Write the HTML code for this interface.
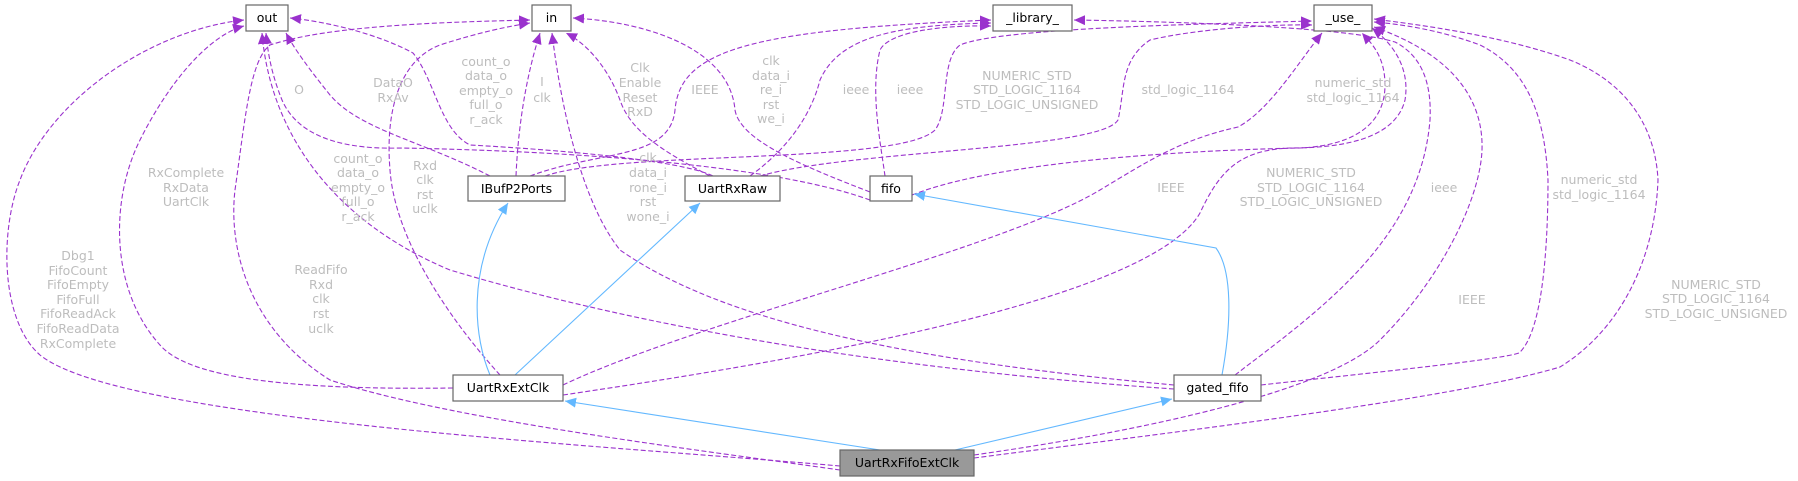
<!DOCTYPE html>
<html><head><meta charset="utf-8"><style>
html,body{margin:0;padding:0;background:#fff;}
svg{display:block;}
.n{fill:#fff;stroke:#666;stroke-width:1.2;}
.t{font-family:"DejaVu Sans","Liberation Sans",sans-serif;font-size:12.5px;fill:#000;text-anchor:middle;}
.l{font-family:"DejaVu Sans","Liberation Sans",sans-serif;font-size:12.5px;fill:#bdbdbd;text-anchor:middle;}
.d{fill:none;stroke:#9a32cd;stroke-width:1.1;stroke-dasharray:5,2.5;marker-end:url(#pa);}
.b{fill:none;stroke:#63b8ff;stroke-width:1.1;marker-end:url(#ba);}
</style></head><body>
<svg width="1798" height="481" viewBox="0 0 1798 481" xmlns="http://www.w3.org/2000/svg">
<defs>
<marker id="pa" markerWidth="12" markerHeight="10" refX="11" refY="5" orient="auto" markerUnits="userSpaceOnUse"><path d="M0,0 L11,5 L0,10 z" fill="#9a32cd"/></marker>
<marker id="ba" markerWidth="12" markerHeight="10" refX="11" refY="5" orient="auto" markerUnits="userSpaceOnUse"><path d="M0,0 L11,5 L0,10 z" fill="#63b8ff"/></marker>
</defs>

<!-- edges to out -->
<path class="d" d="M840,466 C600,445 120,420 40,355 C0,320 0,230 20,180 C50,100 150,30 244,20"/>
<path class="d" d="M453,388 C300,390 190,380 160,345 C110,290 110,200 140,140 C170,80 210,35 244,26"/>
<path class="d" d="M490,176 C420,140 360,130 330,95 C310,70 295,50 286,33"/>
<path class="d" d="M713,176 C680,160 560,150 470,145 C440,130 435,80 413,53 C380,35 330,22 290,18"/>
<path class="d" d="M870,200 C760,160 520,150 400,148 C330,150 295,130 282,100 C272,75 268,55 266,33"/>
<path class="d" d="M1174,389 C900,370 650,330 450,270 C330,220 270,130 262,33"/>

<!-- edges to in -->
<path class="d" d="M840,470 C700,450 450,420 330,380 C250,330 228,250 235,190 C245,120 250,60 270,45 C330,25 450,22 530,20"/>
<path class="d" d="M516,176 C518,130 525,80 540,33"/>
<path class="d" d="M710,176 C660,150 630,130 620,100 C605,60 580,40 566,33"/>
<path class="d" d="M870,192 C800,165 740,140 735,110 C730,50 650,22 573,18"/>
<path class="d" d="M500,375 C450,320 395,240 390,170 C385,110 400,60 440,45 C480,32 510,26 530,23"/>
<path class="d" d="M1174,385 C900,360 720,320 620,250 C580,200 560,100 552,33"/>

<!-- edges to _library_ -->
<path class="d" d="M530,176 C600,150 670,160 675,110 C680,50 750,30 991,20"/>
<path class="d" d="M750,176 C800,140 815,100 820,80 C840,35 900,25 991,23"/>
<path class="d" d="M885,176 C880,140 870,90 880,50 C890,30 950,25 991,26"/>
<path class="d" d="M1235,375 C1320,310 1420,240 1430,120 C1432,80 1420,55 1395,42 C1350,28 1200,22 1074,20"/>

<!-- edges to _use_ -->
<path class="d" d="M545,176 C620,150 900,165 935,130 C950,110 940,60 960,45 C1000,28 1200,24 1312,21"/>
<path class="d" d="M760,176 C850,150 1100,150 1118,120 C1125,90 1120,60 1150,40 C1200,28 1280,24 1312,25"/>
<path class="d" d="M912,195 C1000,160 1200,150 1300,148 C1360,145 1385,120 1385,85 C1385,55 1370,42 1362,33"/>
<path class="d" d="M563,385 C700,320 1000,250 1100,190 C1150,160 1180,140 1238,127 C1270,110 1300,60 1322,33"/>
<path class="d" d="M563,395 C800,360 1150,300 1200,213 C1220,170 1240,150 1290,148 C1340,148 1395,140 1405,100 C1410,70 1395,45 1372,28"/>
<path class="d" d="M1261,385 C1350,375 1500,360 1519,353 C1545,330 1548,230 1548,180 C1545,120 1530,70 1480,45 C1440,30 1400,24 1374,22"/>
<path class="d" d="M974,458 C1150,435 1450,400 1560,367 C1620,330 1655,260 1658,180 C1655,120 1620,80 1570,60 C1500,35 1420,25 1374,19"/>
<path class="d" d="M974,455 C1150,430 1330,390 1380,340 C1440,280 1480,200 1482,150 C1484,90 1440,50 1374,27"/>

<!-- inheritance -->
<path class="b" d="M880,450 L565,401"/>
<path class="b" d="M955,450 L1172,399"/>
<path class="b" d="M490,375 C475,340 465,270 508,203"/>
<path class="b" d="M515,375 L700,203"/>
<path class="b" d="M1222,375 C1232,320 1232,270 1216,248 L914,194"/>

<!-- labels -->
<g class="l">
<text x="78" y="260">Dbg1</text><text x="78" y="275">FifoCount</text><text x="78" y="289">FifoEmpty</text><text x="78" y="304">FifoFull</text><text x="78" y="318">FifoReadAck</text><text x="78" y="333">FifoReadData</text><text x="78" y="348">RxComplete</text>
<text x="186" y="177">RxComplete</text><text x="186" y="192">RxData</text><text x="186" y="206">UartClk</text>
<text x="321" y="274">ReadFifo</text><text x="321" y="289">Rxd</text><text x="321" y="303">clk</text><text x="321" y="318">rst</text><text x="321" y="333">uclk</text>
<text x="358" y="163">count_o</text><text x="358" y="177">data_o</text><text x="358" y="192">empty_o</text><text x="358" y="206">full_o</text><text x="358" y="221">r_ack</text>
<text x="425" y="170">Rxd</text><text x="425" y="184">clk</text><text x="425" y="199">rst</text><text x="425" y="213">uclk</text>
<text x="299" y="94">O</text>
<text x="393" y="87">DataO</text><text x="393" y="102">RxAv</text>
<text x="486" y="66">count_o</text><text x="486" y="80">data_o</text><text x="486" y="95">empty_o</text><text x="486" y="109">full_o</text><text x="486" y="124">r_ack</text>
<text x="542" y="86">I</text><text x="542" y="102">clk</text>
<text x="640" y="72">Clk</text><text x="640" y="87">Enable</text><text x="640" y="102">Reset</text><text x="640" y="116">RxD</text>
<text x="705" y="94">IEEE</text>
<text x="771" y="65">clk</text><text x="771" y="80">data_i</text><text x="771" y="94">re_i</text><text x="771" y="109">rst</text><text x="771" y="123">we_i</text>
<text x="856" y="94">ieee</text><text x="910" y="94">ieee</text>
<text x="1027" y="80">NUMERIC_STD</text><text x="1027" y="94">STD_LOGIC_1164</text><text x="1027" y="109">STD_LOGIC_UNSIGNED</text>
<text x="1188" y="94">std_logic_1164</text>
<text x="648" y="162">clk</text><text x="648" y="177">data_i</text><text x="648" y="192">rone_i</text><text x="648" y="206">rst</text><text x="648" y="221">wone_i</text>
<text x="1171" y="192">IEEE</text>
<text x="1353" y="87">numeric_std</text><text x="1353" y="102">std_logic_1164</text>
<text x="1311" y="177">NUMERIC_STD</text><text x="1311" y="192">STD_LOGIC_1164</text><text x="1311" y="206">STD_LOGIC_UNSIGNED</text>
<text x="1444" y="192">ieee</text>
<text x="1599" y="184">numeric_std</text><text x="1599" y="199">std_logic_1164</text>
<text x="1472" y="304">IEEE</text>
<text x="1716" y="289">NUMERIC_STD</text><text x="1716" y="303">STD_LOGIC_1164</text><text x="1716" y="318">STD_LOGIC_UNSIGNED</text>
</g>

<!-- nodes -->
<rect class="n" x="246" y="5" width="42" height="26"/><text class="t" x="267" y="22">out</text>
<rect class="n" x="532" y="5" width="39" height="26"/><text class="t" x="551.5" y="22">in</text>
<rect class="n" x="993" y="5" width="79" height="26"/><text class="t" x="1032.5" y="22">_library_</text>
<rect class="n" x="1314" y="5" width="58" height="26"/><text class="t" x="1343" y="22">_use_</text>
<rect class="n" x="468" y="176" width="97" height="25"/><text class="t" x="516.5" y="193">IBufP2Ports</text>
<rect class="n" x="685" y="176" width="95" height="25"/><text class="t" x="732.5" y="193">UartRxRaw</text>
<rect class="n" x="870" y="176" width="42" height="25"/><text class="t" x="891" y="193">fifo</text>
<rect class="n" x="453" y="375" width="110" height="26"/><text class="t" x="508" y="392">UartRxExtClk</text>
<rect class="n" x="1174" y="375" width="87" height="26"/><text class="t" x="1217.5" y="392">gated_fifo</text>
<rect class="n" x="840" y="450" width="134" height="26" style="fill:#999"/><text class="t" x="907" y="467">UartRxFifoExtClk</text>
</svg>
</body></html>
